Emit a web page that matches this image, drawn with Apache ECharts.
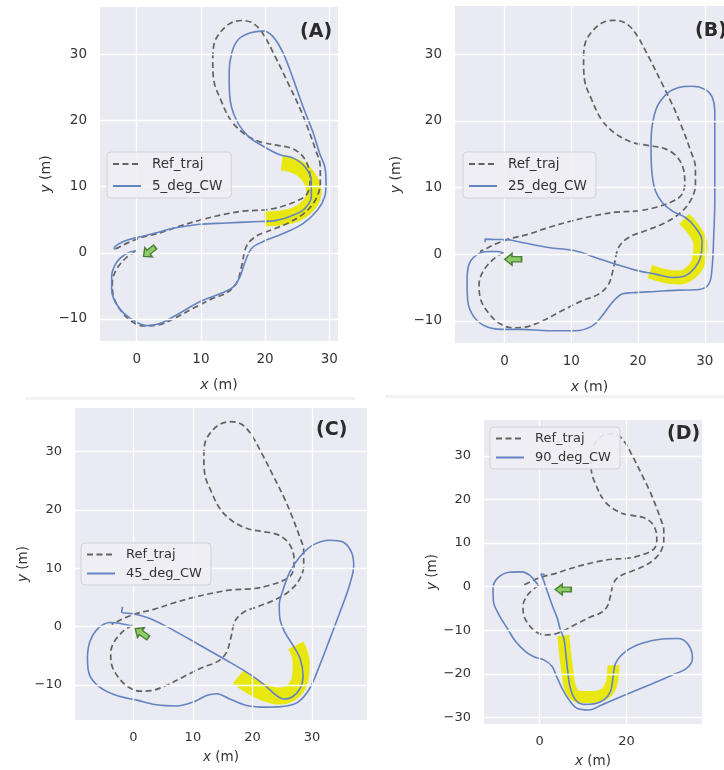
<!DOCTYPE html>
<html>
<head>
<meta charset="utf-8">
<script src="https://cdn.jsdelivr.net/npm/echarts@6/dist/echarts.min.js"></script>
<style>html,body{margin:0;padding:0;background:#fff}#c{width:724px;height:770px}</style>
</head>
<body>
<div id="c"></div>
<script>
// ---------------- DATA ----------------
const refTraj = [[-0.15,0.25],[-1.65,-0.75],[-3.15,-2.5],[-3.8,-4.5],[-3.65,-6.5],[-2.65,-8.5],[-0.9,-10.3],[1.1,-11.05],[3.1,-10.95],[5.6,-10.05],[8.6,-8.5],[11.6,-7],[14.1,-6],[15.6,-4.5],[16.35,-2],[17.1,1],[18.6,2.5],[21.1,3.5],[23.6,4.5],[26.1,6],[27.85,8],[28.6,10.5],[28.6,13],[27.85,15.6],[26.6,19],[25.35,22],[23.6,25.6],[21.6,29.6],[19.6,33.2],[18.1,34.7],[16.35,35.1],[14.6,34.7],[13.1,33.4],[12.1,31.7],[11.85,29.1],[12,26.1],[13.1,23.1],[14.6,20.1],[16.6,18.1],[19.1,16.8],[21.6,16.3],[24.1,15.8],[25.85,14.6],[26.85,12.6],[27,10.8],[26.6,9],[25.35,8],[22.6,7],[20.1,6.5],[16.6,6.3],[13.6,5.8],[10.1,5],[6.6,4],[3.6,3],[0.6,2.26],[-1.4,1.5],[-2.9,0.75],[-3.65,0.4]];

const traj5 = [[-0.1,0.3],[-1.55,-0.1],[-3.1,-1.4],[-3.9,-3.6],[-3.9,-5.7],[-2.85,-8.2],[-1,-9.9],[1.55,-11],[3.6,-10.7],[6.2,-9.4],[9.8,-7.4],[12.95,-6.2],[15,-5.2],[16.1,-3.6],[16.8,-1.6],[17.9,0.66],[19.7,1.7],[22.8,2.9],[25.9,4.4],[28.2,6.5],[29.3,8.5],[29.5,10.5],[29.3,13],[28.5,15],[27.5,18.1],[25.9,22.1],[24.4,26.2],[22.8,30.2],[21.2,32.7],[19.7,33.5],[17.6,33.2],[15.8,32.2],[14.8,30.2],[14.4,27.2],[14.5,23.6],[15.5,20.1],[17.4,17.6],[19.7,16.1],[22.3,14.8],[24.4,14.3],[26.2,13],[27.2,11],[27.2,8.5],[26.2,6.7],[24.4,5.7],[21.8,4.9],[18.1,4.7],[14,4.5],[9.8,4.3],[5.7,3.7],[2.6,2.9],[0,2.3],[-2.1,1.7],[-3.4,0.9],[-3.5,0.5]];

const traj25 = [[-0.15,0.15],[-0.9,0.4],[-2.4,0.4],[-4.15,-0.1],[-5.3,-1.5],[-5.6,-4],[-5.5,-7],[-4.65,-9.3],[-2.9,-10.8],[-0.4,-11.3],[2.6,-11.3],[6.6,-11.5],[10.6,-11.5],[13.1,-10.8],[14.6,-9.3],[16.1,-7.3],[17.6,-6],[19.1,-5.8],[22.6,-5.6],[26.1,-5.4],[29.1,-5.3],[30.6,-4.5],[31.1,-2],[31.35,3],[31.5,8],[31.5,13.1],[31.5,18.1],[31.5,21.6],[31.1,23.6],[30.1,24.7],[28.1,25.2],[26.1,25],[24.35,24.1],[22.85,22.1],[22.1,19.1],[21.95,16.1],[22.1,12.1],[22.6,9.5],[23.6,7.8],[25.1,6.5],[27.1,5.5],[28.6,4],[29.6,2],[29.35,-0.5],[28.1,-2.5],[26.6,-3.4],[25.1,-3.5],[22.6,-3],[19.6,-2.4],[16.6,-1.5],[13.6,-0.5],[10.6,0.5],[6.6,1],[2.6,1.76],[0.1,2.2],[-1.4,2.2],[-2.9,2.26],[-2.9,1.8]];

const traj45 = [[-0.1,0.1],[-0.6,0.2],[-2,0.5],[-3.9,0.7],[-5.9,-0.3],[-7.3,-2.6],[-7.7,-5.5],[-7.3,-8.4],[-5.6,-10.4],[-2.8,-11.8],[0.6,-12.6],[3.9,-13.4],[7.3,-13.6],[10.1,-12.9],[12.3,-11.8],[14,-11.5],[16.2,-12.4],[19,-13.5],[22.4,-13.8],[25.7,-13.6],[27.7,-12.9],[29.6,-10.6],[31.3,-6.6],[33,-2.1],[34.7,2.5],[36.3,7.1],[37,10.5],[36.6,12.8],[35.2,14.5],[33,14.8],[30.2,14],[28,12],[26.3,9.4],[25.2,6.5],[24.5,3.7],[24.6,1.4],[25.4,-0.9],[26.8,-3.2],[28,-5.5],[28.5,-8.4],[28,-10.6],[26.6,-12.1],[25.2,-12.4],[24,-11.8],[21.8,-9.8],[19,-7.8],[15.7,-5.8],[11.2,-3.2],[6.7,-0.6],[2.8,1.4],[0,2.2],[-1.96,2.5],[-1.8,3.4]];

const traj90 = [[-0.3,0.5],[-0.9,1.1],[-2.1,2.5],[-4,3.4],[-7,3.3],[-9.7,1.9],[-10.7,-0.4],[-10.6,-3.4],[-9.3,-6.5],[-7.4,-9.6],[-5.5,-12.6],[-3.2,-14.9],[-1.3,-16.1],[1,-16.8],[2.9,-18.3],[4.1,-21],[5.6,-24.1],[7.1,-26.4],[8.6,-27.9],[11.3,-28.3],[14.4,-27.1],[19.8,-24.8],[25.1,-22.6],[30.5,-20.3],[33.9,-18.7],[35.2,-16.4],[34.3,-13.4],[32,-11.9],[28.2,-12],[23.6,-13],[19.8,-14.9],[17.5,-17.6],[16.9,-21],[16.3,-24.1],[14.8,-26],[12.9,-26.8],[10.2,-27],[8.3,-26],[7.1,-23.3],[6.5,-19.5],[6,-14.9],[5.6,-11.9],[4.8,-9.9],[4.1,-7.3],[2.9,-4.2],[1.8,-1.1],[0.8,1.8],[0.3,2.9],[1.2,2.8]];

const highlight5  = [[19.9,5.1],[22.8,5.3],[25,5.9],[26.8,7.2],[27.6,9],[27.1,11],[25.3,12.8],[22.6,13.6]];
const highlight25 = [[21.8,-2.6],[24.1,-3.3],[26.1,-3.5],[27.85,-2.8],[29.1,-1],[29.35,1.5],[28.4,3.6],[26.9,5.3]];
const highlight45 = [[17.6,-8.6],[19.5,-10],[21.8,-11.2],[24.5,-11.9],[26.8,-11.1],[28,-9],[28.2,-6.3],[27.3,-3.2]];
const highlight90 = [[5.5,-11.2],[5.9,-15.5],[6.5,-20],[7.3,-23.8],[9.2,-25.3],[12.5,-25.3],[15,-24.6],[16.5,-22.5],[17,-18]];

const start5 = [[1.96,0.17]];
const start25 = [[1.29,-0.77]];
const start45 = [[1.41,-1.13]];
const start90 = [[5.45,-0.65]];

const seriesNames = ['5_deg_CW','25_deg_CW','45_deg_CW','90_deg_CW'];
const panelTitles = ['(A)','(B)','(C)','(D)'];
const xTicks = [0,10,20,30];
const yTicks = [-10,0,10,20,30];
const xTicksD = [0,20];
const yTicksD = [-30,-20,-10,0,10,20,30];

// ---------------- LAYOUT ----------------
const FONT = 'DejaVu Sans';
const TXT = '#333333';
const BLUE = '#6483c1';
const GRAY = '#626262';
const YELLOW = '#e8e810';

const panels = [
  {grid:{left:100, top:7, width:238, height:334}, xr:[-5.72,31.36], yr:[-13.33,37.14], xt:xTicks, yt:yTicks,
   traj:traj5, hl:highlight5, hlW:15, st:start5, rot:219, arrowSize:[15,12],
   xGap:37, yGap:47, fs:13.5,
   legend:{left:107, top:152, gap:8}, title:{x:300, y:35}},
  {grid:{left:455, top:6, width:269, height:337}, xr:[-7.41,32.88], yr:[-13.34,37.25], xt:xTicks, yt:yTicks,
   traj:traj25, hl:highlight25, hlW:14, st:start25, rot:180, arrowSize:[17,12],
   xGap:37, yGap:52, fs:13.5,
   legend:{left:463, top:152, gap:8}, title:{x:695, y:34}},
  {grid:{left:75, top:408, width:292, height:312}, xr:[-9.79,39.23], yr:[-16.0,37.45], xt:xTicks, yt:yTicks,
   traj:traj45, hl:highlight45, hlW:17, st:start45, rot:145, arrowSize:[16,12],
   xGap:30, yGap:45, fs:13,
   legend:{left:81, top:543, gap:6}, title:{x:316, y:433}},
  {grid:{left:484, top:420, width:218, height:304}, xr:[-12.78,37.4], yr:[-31.51,38.25], xt:xTicksD, yt:yTicksD,
   traj:traj90, hl:highlight90, hlW:12, st:start90, rot:180, arrowSize:[16,11],
   xGap:30, yGap:44, fs:13,
   legend:{left:490, top:427, gap:6}, title:{x:667, y:437}}
];

const fmt = v => String(v).replace('-', '\u2212');
const grids = [], xAxes = [], yAxes = [], series = [], legends = [], graphics = [];

panels.forEach((p, i) => {
  grids.push(Object.assign({show:true, backgroundColor:'#EAEAF2', borderWidth:0, containLabel:false}, p.grid));
  xAxes.push({
    gridIndex:i, type:'value', min:p.xr[0], max:p.xr[1],
    axisLine:{show:false}, axisTick:{show:false, customValues:p.xt}, splitLine:{show:false},
    axisLabel:{customValues:p.xt, margin:11, color:TXT, fontSize:p.fs, fontFamily:FONT, formatter:fmt},
    name:'{i|x} (m)', nameLocation:'middle', nameGap:p.xGap,
    nameTextStyle:{color:TXT, fontSize:p.fs+0.5, fontFamily:FONT, rich:{i:{fontStyle:'italic', color:TXT, fontSize:p.fs+0.5, fontFamily:FONT}}}
  });
  yAxes.push({
    gridIndex:i, type:'value', min:p.yr[0], max:p.yr[1],
    axisLine:{show:false}, axisTick:{show:false, customValues:p.yt}, splitLine:{show:false},
    axisLabel:{customValues:p.yt, margin:13, color:TXT, fontSize:p.fs, fontFamily:FONT, formatter:fmt},
    name:'{i|y} (m)', nameLocation:'middle', nameGap:p.yGap,
    nameTextStyle:{color:TXT, fontSize:p.fs+0.5, fontFamily:FONT, rich:{i:{fontStyle:'italic', color:TXT, fontSize:p.fs+0.5, fontFamily:FONT}}}
  });
  // grid lines
  series.push({
    type:'line', xAxisIndex:i, yAxisIndex:i, data:[[p.xr[0], p.yr[0]]], symbol:'none', silent:true,
    lineStyle:{width:0}, z:1,
    markLine:{silent:true, symbol:['none','none'], label:{show:false}, animation:false,
      lineStyle:{color:'#ffffff', width:1.3, type:'solid'},
      data: p.xt.map(v => ({xAxis:v})).concat(p.yt.map(v => ({yAxis:v})))}
  });
  series.push({
    type:'line', xAxisIndex:i, yAxisIndex:i, data:p.hl, symbol:'none', smooth:0.4, silent:true, z:2,
    lineStyle:{color:YELLOW, width:p.hlW, cap:'butt', join:'round'}
  });
  series.push({
    name:'Ref_traj', type:'line', xAxisIndex:i, yAxisIndex:i, data:refTraj, symbol:'none', smooth:0.35, z:3,
    lineStyle:{color:GRAY, width:1.7, type:[6,3.5]}, itemStyle:{color:GRAY}
  });
  series.push({
    name:seriesNames[i], type:'line', xAxisIndex:i, yAxisIndex:i, data:p.traj, symbol:'none', smooth:0.35, z:4,
    lineStyle:{color:BLUE, width:1.6}, itemStyle:{color:BLUE}
  });
  series.push({
    type:'scatter', xAxisIndex:i, yAxisIndex:i, data:p.st, z:5, silent:true,
    symbol:'path://M0,4 L9,4 L9,0 L16,7 L9,14 L9,10 L0,10 Z', symbolSize:p.arrowSize, symbolRotate:p.rot, symbolKeepAspect:false,
    itemStyle:{color:'#77c244', borderColor:'#2c6a18', borderWidth:1.4}
  });
  legends.push({
    data:['Ref_traj', seriesNames[i]], orient:'vertical', left:p.legend.left, top:p.legend.top,
    itemWidth:28, itemHeight:14, itemGap:p.legend.gap, padding:[5,9,5,5], z:20,
    backgroundColor:'rgba(238,238,244,0.9)', borderColor:'#d2d2da', borderWidth:1, borderRadius:4,
    selectedMode:false,
    itemStyle:{opacity:0, borderWidth:0},
    textStyle:{color:TXT, fontSize:p.fs, fontFamily:FONT, padding:[0,0,0,6]}
  });
  graphics.push({
    type:'text', left:p.title.x, top:p.title.y - 12, z:100,
    style:{text:panelTitles[i], fill:'#2b2b2b', font:'bold 19px "DejaVu Sans"'}
  });
});

// faint separators from the original screenshot
graphics.push({type:'rect', shape:{x:25, y:397, width:330, height:3}, style:{fill:'#f2f2f4'}, z:0});
graphics.push({type:'rect', shape:{x:385, y:395, width:339, height:3}, style:{fill:'#f2f2f4'}, z:0});

const chart = echarts.init(document.getElementById('c'), null, {renderer:'canvas'});
chart.setOption({
  backgroundColor:'#ffffff',
  animation:false,
  grid:grids, xAxis:xAxes, yAxis:yAxes, series:series, legend:legends, graphic:graphics
});
</script>
</body>
</html>
